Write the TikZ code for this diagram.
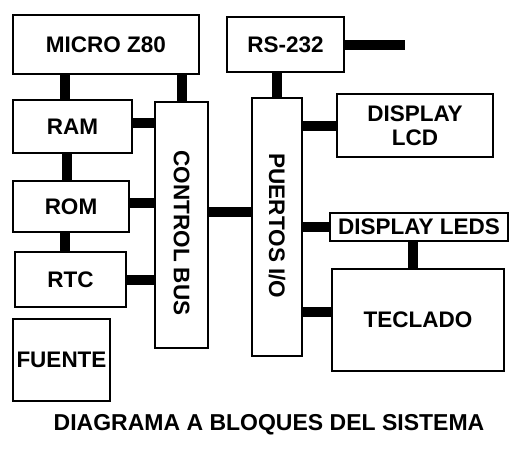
\documentclass[tikz,border=0pt]{standalone}
\usepackage{fontspec}
\setmainfont{Liberation Sans}
\begin{document}
\begin{tikzpicture}[x=1pt,y=-1pt,
  blk/.style={draw=black,line width=2pt,inner sep=0pt,fill=white,
    font=\bfseries\fontsize{22.5}{24}\selectfont,align=center},
  conn/.style={line width=10pt,black},
  lbl/.style={font=\bfseries\fontsize{22.5}{24}\selectfont}]
\useasboundingbox (0,0) rectangle (525,459);
\node[blk,minimum width=186pt,minimum height=59pt] (micro) at (106,44.5) {MICRO Z80};
\node[blk,minimum width=119pt,minimum height=53pt] (ram) at (72.5,126.5) {RAM};
\node[blk,minimum width=116pt,minimum height=51pt] (rom) at (71,206.5) {ROM};
\node[blk,minimum width=111pt,minimum height=55pt] (rtc) at (70.5,279.5) {RTC};
\node[blk,minimum width=97pt,minimum height=82pt] (fuente) at (61.5,360) {FUENTE};
\node[blk,minimum width=53pt,minimum height=246pt] (bus) at (181.5,225) {};
\node[lbl,rotate=-90] (bust) at (181.5,233) {CONTROL BUS};
\node[blk,minimum width=117pt,minimum height=55pt] (rs) at (285.5,44.5) {RS-232};
\node[blk,minimum width=50pt,minimum height=258pt] (io) at (277,227) {};
\node[lbl,rotate=-90] (iot) at (277,226) {PUERTOS I/O};
\node[blk,minimum width=156pt,minimum height=63pt] (lcd) at (415,125.5) {DISPLAY\\LCD};
\node[blk,minimum width=178pt,minimum height=28pt] (leds) at (419,227) {DISPLAY LEDS};
\node[blk,minimum width=172pt,minimum height=102pt] (tec) at (418,320) {TECLADO};
\node[font=\bfseries\fontsize{23}{24}\selectfont] (title) at (269,425) {DIAGRAMA A BLOQUES DEL SISTEMA};
\coordinate (rsend) at (405,44.5);
% connectors
\draw[conn] ([xshift=-41pt]micro.south) -- ([xshift=-41pt]micro.south |- ram.north);
\draw[conn] (bus.north) -- (bus.north |- micro.south);
\draw[conn] ([xshift=-5.5pt]ram.south) -- ([xshift=-5.5pt]ram.south |- rom.north);
\draw[conn] ([xshift=-6pt]rom.south) -- ([xshift=-6pt]rom.south |- rtc.north);
\draw[conn] ([yshift=3.5pt]ram.east) -- ([yshift=3.5pt]ram.east -| bus.west);
\draw[conn] ([yshift=4pt]rom.east) -- ([yshift=4pt]rom.east -| bus.west);
\draw[conn] (rtc.east) -- (rtc.east -| bus.west);
\draw[conn] ([yshift=13.5pt]bus.east) -- ([yshift=13.5pt]bus.east -| io.west);
\draw[conn] (io.north) -- (io.north |- rs.south);
\draw[conn] (rs.east) -- (rsend);
\draw[conn] (lcd.west) -- (lcd.west -| io.east);
\draw[conn] (leds.west) -- (leds.west -| io.east);
\draw[conn] ([xshift=-6pt]leds.south) -- ([xshift=-6pt]leds.south |- tec.north);
\draw[conn] ([yshift=8pt]tec.west) -- ([yshift=8pt]tec.west -| io.east);
\end{tikzpicture}
\end{document}
